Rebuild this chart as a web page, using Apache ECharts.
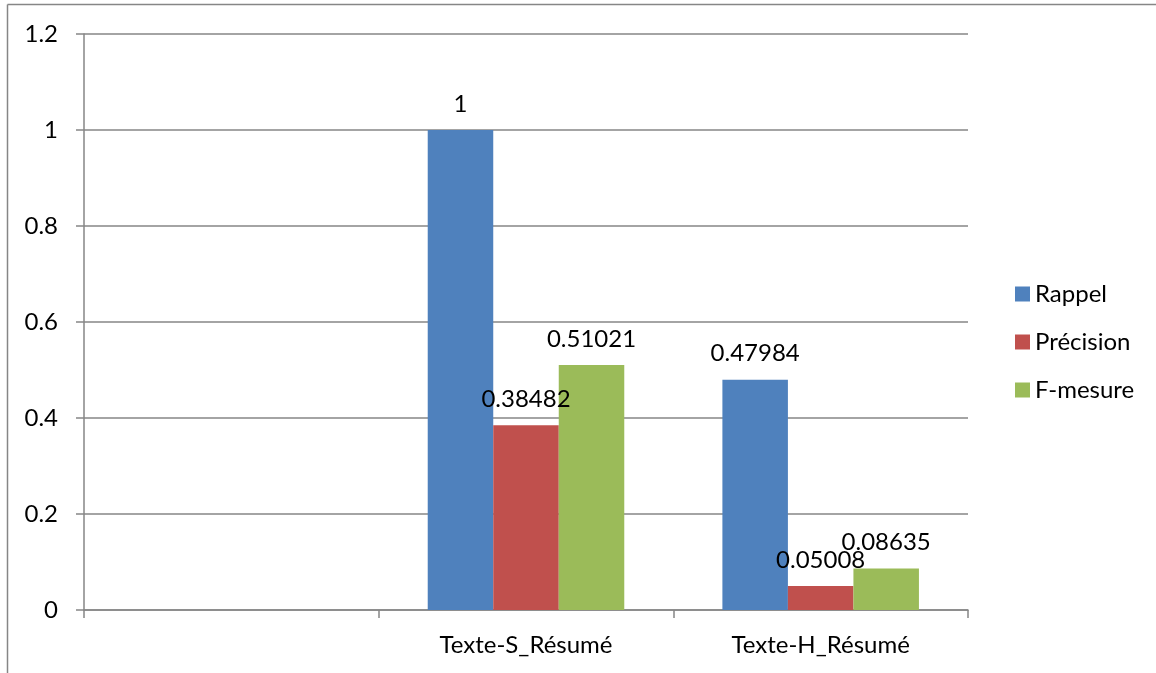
<!DOCTYPE html>
<html>
<head>
<meta charset="utf-8">
<script src="https://cdn.jsdelivr.net/npm/echarts@6/dist/echarts.min.js"></script>
<style>
html,body{margin:0;padding:0;background:#fff;}
#chart{width:1156px;height:673px;}
</style>
</head>
<body>
<div id="chart"></div>
<script>
const categories = ['', 'Texte-S_Résumé', 'Texte-H_Résumé'];
const rappel = ['-', 1, 0.47984];
const precision = ['-', 0.38482, 0.05008];
const fmesure = ['-', 0.51021, 0.08635];
const seriesNames = ['Rappel', 'Précision', 'F-mesure'];
const yTicks = { min: 0, max: 1.2, interval: 0.2 };

const FONT = 'Lato';
const FS = 24;
const GRAY = '#868686';

const chart = echarts.init(document.getElementById('chart'), null, { renderer: 'canvas' });

function barSeries(name, data, color) {
  return {
    name: name,
    type: 'bar',
    data: data,
    barGap: '0%',
    barCategoryGap: '33.3%',
    itemStyle: { color: color },
    label: {
      show: true,
      position: 'top',
      distance: 14,
      color: '#000',
      fontFamily: FONT,
      fontSize: FS
    },
    emphasis: { disabled: true }
  };
}

chart.setOption({
  animation: false,
  backgroundColor: '#fff',
  textStyle: { fontFamily: FONT },
  grid: { left: 84, right: 188, top: 34, bottom: 63, containLabel: false },
  legend: {
    orient: 'vertical',
    left: 1010,
    top: 277,
    itemWidth: 15,
    itemHeight: 15,
    itemGap: 24,
    icon: 'rect',
    textStyle: { fontFamily: FONT, fontSize: FS, color: '#000' },
    data: seriesNames
  },
  xAxis: {
    type: 'category',
    data: categories,
    boundaryGap: true,
    axisLine: { show: true, lineStyle: { color: GRAY, width: 1.5 } },
    axisTick: { show: true, length: 8, lineStyle: { color: GRAY, width: 1.5 } },
    axisLabel: { color: '#000', fontFamily: FONT, fontSize: FS, margin: 23 },
    splitLine: { show: false }
  },
  yAxis: {
    type: 'value',
    min: yTicks.min,
    max: yTicks.max,
    interval: yTicks.interval,
    axisLine: { show: true, lineStyle: { color: GRAY, width: 1.5 } },
    axisTick: { show: true, length: 8, lineStyle: { color: GRAY, width: 1.5 } },
    axisLabel: { color: '#000', fontFamily: FONT, fontSize: FS, margin: 26 },
    splitLine: { show: true, lineStyle: { color: GRAY, width: 1.5 } }
  },
  graphic: [
    { type: 'line', silent: true, shape: { x1: 7.5, y1: 4.5, x2: 1156, y2: 4.5 }, style: { stroke: GRAY, lineWidth: 1.5 } },
    { type: 'line', silent: true, shape: { x1: 7.5, y1: 4.5, x2: 7.5, y2: 673 }, style: { stroke: GRAY, lineWidth: 1.5 } }
  ],
  series: [
    barSeries(seriesNames[0], rappel, '#4F81BD'),
    barSeries(seriesNames[1], precision, '#C0504D'),
    barSeries(seriesNames[2], fmesure, '#9BBB59')
  ]
});
</script>
</body>
</html>
